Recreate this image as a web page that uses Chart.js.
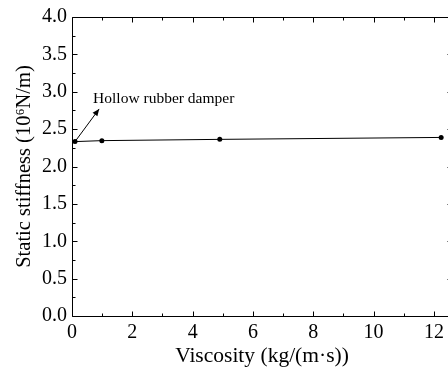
<!DOCTYPE html>
<html>
<head>
<meta charset="utf-8">
<script src="https://cdn.jsdelivr.net/npm/chart.js@4/dist/chart.umd.min.js"></script>
<style>
html, body { margin:0; padding:0; overflow:hidden; background:#fff; }
#wrap { width:456px; height:372px; position:relative; }
</style>
</head>
<body>
<div id="wrap"><canvas id="c"></canvas></div>
<script>
// Data
const viscosity = [0.1, 0.99, 4.9, 12.24];
const stiffness = [2.333, 2.346, 2.363, 2.389];
const xTickValues = [0, 2, 4, 6, 8, 10, 12];
const yTickValues = [0.0, 0.5, 1.0, 1.5, 2.0, 2.5, 3.0, 3.5, 4.0];
const xTitle = 'Viscosity (kg/(m\u00B7s))';
const yTitle = 'Static stiffness (10\u2076N/m)';
const annotationText = 'Hollow rubber damper';
const annotationArrowTip = {x: 0.9, y: 2.77};
const annotationTextPos = {x: 0.7, y: 2.91};

const FONT = '"Liberation Serif", "Times New Roman", serif';

const framePlugin = {
  id: 'frame',
  afterDraw(chart) {
    const {ctx, chartArea: a, scales: {x, y}} = chart;
    ctx.save();
    ctx.strokeStyle = '#000';
    ctx.lineWidth = 1;
    const L = Math.round(a.left) + 0.5, R = Math.round(a.right) + 0.5;
    const T = Math.round(a.top) + 0.5, B = Math.round(a.bottom) + 0.5;
    ctx.beginPath();
    ctx.moveTo(L, T); ctx.lineTo(R, T); ctx.lineTo(R, B); ctx.lineTo(L, B); ctx.closePath();
    ctx.stroke();
    ctx.beginPath();
    for (let v = 0; v <= x.max; v += 1) {
      const px = Math.round(x.getPixelForValue(v)) + 0.5;
      const len = (v % 2 === 0) ? 5 : 3;
      ctx.moveTo(px, B); ctx.lineTo(px, B - len);
      ctx.moveTo(px, T); ctx.lineTo(px, T + len);
    }
    for (let i = 0; i <= 16; i++) {
      const v = i * 0.25;
      const py = Math.round(y.getPixelForValue(v)) + 0.5;
      const len = (i % 2 === 0) ? 5 : 3;
      ctx.moveTo(L, py); ctx.lineTo(L + len, py);
      ctx.moveTo(R, py); ctx.lineTo(R - len, py);
    }
    ctx.stroke();

    const x0 = x.getPixelForValue(viscosity[0]);
    const y0 = y.getPixelForValue(stiffness[0]);
    const x1 = x.getPixelForValue(annotationArrowTip.x);
    const y1 = y.getPixelForValue(annotationArrowTip.y);
    ctx.beginPath();
    ctx.moveTo(x0, y0); ctx.lineTo(x1, y1);
    ctx.stroke();
    const ang = Math.atan2(y1 - y0, x1 - x0);
    const hl = 7, hw = 3;
    ctx.beginPath();
    ctx.moveTo(x1, y1);
    ctx.lineTo(x1 - hl*Math.cos(ang) + hw*Math.sin(ang), y1 - hl*Math.sin(ang) - hw*Math.cos(ang));
    ctx.lineTo(x1 - hl*Math.cos(ang) - hw*Math.sin(ang), y1 - hl*Math.sin(ang) + hw*Math.cos(ang));
    ctx.closePath();
    ctx.fillStyle = '#000';
    ctx.fill();

    ctx.font = '15.5px ' + FONT;
    ctx.fillStyle = '#000';
    ctx.textBaseline = 'middle';
    ctx.textAlign = 'left';
    ctx.fillText(annotationText, x.getPixelForValue(annotationTextPos.x), y.getPixelForValue(annotationTextPos.y));
    ctx.restore();
  }
};

new Chart(document.getElementById('c'), {
  type: 'scatter',
  data: {
    datasets: [{
      data: viscosity.map((v, i) => ({x: v, y: stiffness[i]})),
      showLine: true,
      borderColor: '#000',
      backgroundColor: '#000',
      borderWidth: 1,
      pointRadius: 2.5,
      pointBackgroundColor: '#000',
      pointBorderColor: '#000',
      pointBorderWidth: 0
    }]
  },
  options: {
    responsive: true,
    maintainAspectRatio: false,
    animation: false,
    events: [],
    layout: { padding: { top: 13, right: 4, left: 0, bottom: 0 } },
    plugins: { legend: { display: false }, tooltip: { enabled: false } },
    scales: {
      x: {
        type: 'linear', min: 0, max: 12.6,
        afterBuildTicks: s => { s.ticks = xTickValues.map(v => ({value: v})); },
        afterFit: s => { s.height = 56; },
        grid: { display: false, drawTicks: false },
        border: { display: false },
        ticks: { color: '#000', padding: 5, maxRotation: 0, autoSkip: false,
                 font: { family: FONT, size: 20 }, callback: v => String(v) },
        title: { display: true, text: xTitle, color: '#000',
                 font: { family: FONT, size: 21.5 }, padding: { top: 0, bottom: 2.5 } }
      },
      y: {
        type: 'linear', min: 0, max: 4.0,
        afterBuildTicks: s => { s.ticks = yTickValues.map(v => ({value: v})); },
        afterFit: s => { s.width = 72; },
        grid: { display: false, drawTicks: false },
        border: { display: false },
        ticks: { color: '#000', padding: 5, autoSkip: false,
                 font: { family: FONT, size: 20 }, callback: v => Number(v).toFixed(1) },
        title: { display: true, text: yTitle, color: '#000',
                 font: { family: FONT, size: 20.5 }, padding: { top: 12.5, bottom: 0 } }
      }
    }
  },
  plugins: [framePlugin]
});
</script>
</body>
</html>
